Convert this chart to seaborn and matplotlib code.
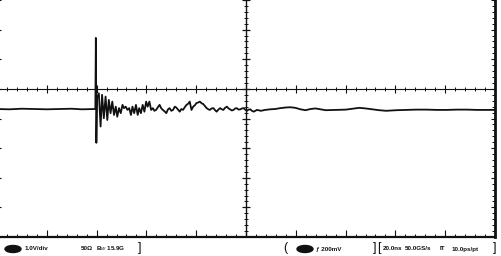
import numpy as np
import pandas as pd
import matplotlib
matplotlib.use("Agg")
import matplotlib.pyplot as plt
from matplotlib.patches import Ellipse
import seaborn as sns

sns.set_theme(style="white")
plt.rcParams['font.family'] = ['Liberation Sans', 'DejaVu Sans']

# ---- data (time in ns, voltage in V) ----
time_ns = [-100, -95, -90, -85, -80, -75, -70, -66, -62, -60.5, -60.3, -60.1, -59.8,
           -59.1, -58.4, -57.8, -57.1, -56.4, -55.7, -55.1, -54.4, -53.7, -53.0,
           -52.3, -51.7, -51.0, -50.3, -49.6, -49.0, -48.3, -47.6, -46.9, -46.2,
           -45.6, -44.9, -44.2, -43.5, -42.9, -42.2, -41.5, -40.8, -40.1, -39.5,
           -38.8, -38.1, -37.4, -36.8, -36.1, -35.4, -34.7, -34.0, -33.4, -32.7,
           -32.0, -31.4, -30.7, -30.0, -29.3, -28.6, -28.0, -27.3, -26.6, -26.0,
           -25.3, -24.6, -23.9, -23.2, -22.6, -21.9, -21.2, -20.5, -19.9, -19.2,
           -18.5, -17.8, -17.2, -16.5, -15.8, -15.1, -14.5, -13.8, -13.1, -12.4,
           -11.8, -11.1, -10.4, -9.7, -9.1, -8.4, -7.7, -7.0, -6.4, -5.7,
           -5.0, -4.3, -3.7, -3.0, -2.3, -1.6, -1.0, -0.3, 0.4, 1.0, 1.7, 2.4,
           3.1, 4.4, 6.0, 7.7, 9.7, 11.7, 13.8, 15.8, 17.8, 19.8, 21.9, 23.9,
           25.9, 27.9, 30.0, 32.0, 36.0, 40.1, 42.8, 45.5, 48.0, 50.6, 53.5,
           56.3, 60.4, 64.4, 68.5, 72.5, 76.5, 80.6, 84.6, 88.7, 92.7, 96.8, 100.8]
volts = [-0.68, -0.69, -0.67, -0.68, -0.69, -0.68, -0.67, -0.69, -0.68, -0.68, 1.72, -1.82, -0.30,
         -0.15, -1.27, -0.20, -0.99, -0.26, -1.05, -0.37, -0.82, -0.43, -0.88,
         -0.60, -0.94, -0.65, -0.82, -0.54, -0.65, -0.60, -0.71, -0.65, -0.88,
         -0.60, -0.82, -0.54, -0.88, -0.65, -0.82, -0.54, -0.77, -0.43, -0.60,
         -0.43, -0.71, -0.65, -0.74, -0.71, -0.62, -0.54, -0.66, -0.71, -0.76,
         -0.82, -0.70, -0.65, -0.74, -0.71, -0.60, -0.63, -0.70, -0.77, -0.68,
         -0.71, -0.62, -0.54, -0.50, -0.43, -0.71, -0.60, -0.55, -0.48, -0.46,
         -0.43, -0.49, -0.51, -0.58, -0.65, -0.69, -0.71, -0.66, -0.65, -0.72,
         -0.77, -0.70, -0.65, -0.69, -0.71, -0.64, -0.60, -0.66, -0.69, -0.73,
         -0.71, -0.66, -0.65, -0.70, -0.69, -0.66, -0.65, -0.70, -0.74, -0.70, -0.69, -0.74,
         -0.77, -0.71, -0.74, -0.71, -0.69, -0.68, -0.65, -0.63, -0.62, -0.64, -0.69, -0.72,
         -0.68, -0.66, -0.69, -0.72, -0.71, -0.70, -0.67, -0.64, -0.66, -0.69, -0.72,
         -0.74, -0.72, -0.71, -0.70, -0.70, -0.71, -0.71, -0.70, -0.70, -0.71, -0.71, -0.71]

x_major = [-100, -80, -60, -40, -20, 0, 20, 40, 60, 80, 100]
y_major = [-5, -4, -3, -2, -1, 0, 1, 2, 3]

status_left = ["1.0V/div", "50\u03a9", "B$_W$ 15.9G"]
status_right = ["\u0192 200mV", "20.0ns", "50.0GS/s", "IT", "10.0ps/pt"]

df = pd.DataFrame({"t": time_ns, "v": volts})

fig = plt.figure(figsize=(5.01, 2.56), dpi=100)
ax = fig.add_axes([-3 / 501, 1 - 237 / 256, 498 / 501, 237 / 256])
ink = "#111111"

sns.lineplot(data=df, x="t", y="v", ax=ax, color=ink, lw=1.3,
             estimator=None, sort=False)

ax.set_xlim(-100, 100)
ax.set_ylim(-5, 3)
ax.set_xlabel("")
ax.set_ylabel("")

# borders
for s in ["top", "left"]:
    ax.spines[s].set_visible(False)
ax.spines["bottom"].set_linewidth(1.6)
ax.spines["bottom"].set_color(ink)
ax.spines["right"].set_linewidth(2.0)
ax.spines["right"].set_color(ink)

x_minor = np.arange(-100, 101, 4)
y_minor = np.arange(-5, 3.01, 0.2)
ax.set_xticks(x_major)
ax.set_xticks(x_minor, minor=True)
ax.set_yticks(y_major)
ax.set_yticks(y_minor, minor=True)
ax.tick_params(axis="x", which="major", direction="in", length=5, width=0.8,
               color=ink, labelbottom=False, bottom=True)
ax.tick_params(axis="x", which="minor", direction="in", length=2.5, width=0.7,
               color=ink, bottom=True)
ax.tick_params(axis="y", which="major", direction="in", length=3, width=0.8,
               color=ink, labelleft=False, left=True, right=True)
ax.tick_params(axis="y", which="minor", direction="in", length=2, width=0.7,
               color=ink, left=False, right=True)

# centre crosshair with graduations
ax.axhline(0, color=ink, lw=0.8, zorder=1)
ax.axvline(0, color=ink, lw=1.0, zorder=1)
ax.plot(x_minor, np.zeros_like(x_minor), ls="", marker="|", ms=3,
        mew=0.7, color=ink)
ax.plot(x_major, np.zeros(len(x_major)), ls="", marker="|", ms=6,
        mew=0.8, color=ink)
ax.plot(np.zeros_like(y_minor), y_minor, ls="", marker="_", ms=3,
        mew=0.7, color=ink)
ax.plot(np.zeros(len(y_major)), y_major, ls="", marker="_", ms=6,
        mew=0.9, color=ink)

# ---- status bar ----
def fx(px):
    return px / 501

def fy(py):
    return 1 - py / 256

ty = fy(249)
fs = 4.5
kw = dict(fontsize=fs, weight="bold", va="center", color=ink)
bk = dict(fontsize=9, va="center", color=ink)
fig.patches.append(Ellipse((fx(13), ty), 16 / 501, 7 / 256,
                           transform=fig.transFigure, color=ink))
fig.text(fx(25), ty, status_left[0], **kw)
fig.text(fx(81), ty, status_left[1], **kw)
fig.text(fx(96), ty, status_left[2], **kw)
fig.text(fx(138), fy(248), "]", **bk)

fig.text(fx(283), fy(248), "(", **bk)
fig.patches.append(Ellipse((fx(305), ty), 16 / 501, 7 / 256,
                           transform=fig.transFigure, color=ink))
fig.text(fx(316), ty, status_right[0], **kw)
fig.text(fx(373), fy(248), "]", **bk)
fig.text(fx(377), fy(248), "[", **bk)
fig.text(fx(383), ty, status_right[1], **kw)
fig.text(fx(405), ty, status_right[2], **kw)
fig.text(fx(440), ty, status_right[3], **kw)
fig.text(fx(452), ty, status_right[4], **kw)
fig.text(fx(493), fy(248), "]", **bk)

fig.savefig("out.png", dpi=100, facecolor="white")
